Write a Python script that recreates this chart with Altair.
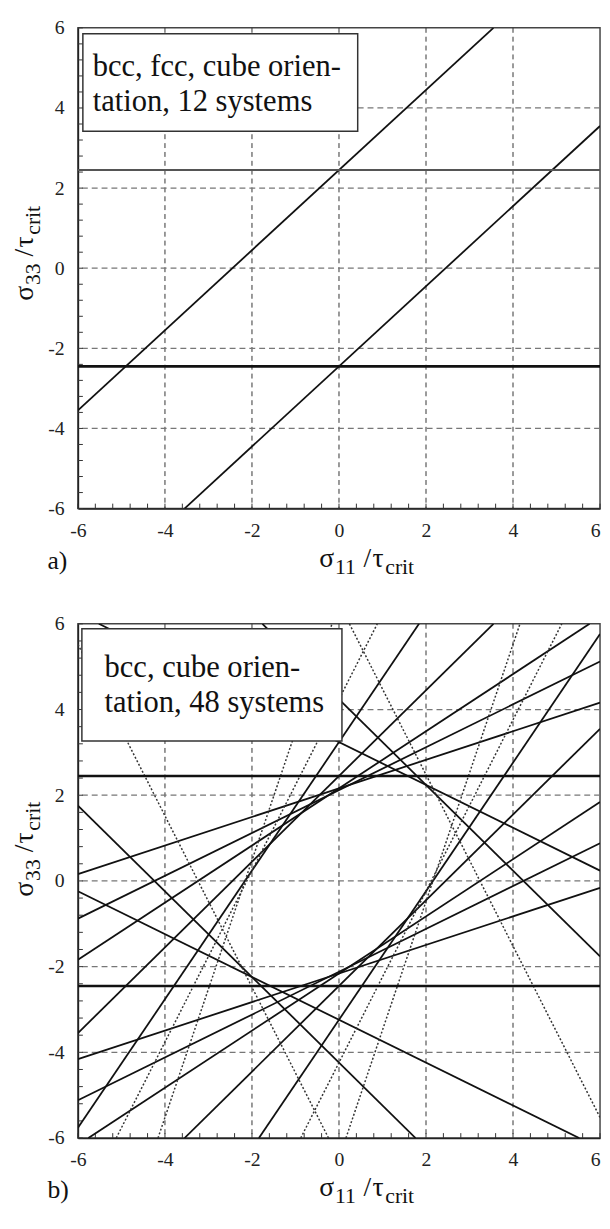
import altair as alt
import pandas as pd

SERIF = "Liberation Serif"

# ---------------- values ----------------
tick_labels = [-6, -4, -2, 0, 2, 4, 6]
grid_vals = [-4, -2, 0, 2, 4]
minor_ticks = [-6.0, -5.6, -5.2, -4.8, -4.4, -4.0, -3.6, -3.2, -2.8, -2.4, -2.0,
               -1.6, -1.2, -0.8, -0.4, 0.0, 0.4, 0.8, 1.2, 1.6, 2.0, 2.4, 2.8,
               3.2, 3.6, 4.0, 4.4, 4.8, 5.2, 5.6, 6.0]

# panel a) : 12 systems, segment start / end points
a_x1 = [-6.0, -6.0, -6.0, -3.55]
a_y1 = [2.45, -2.45, -3.55, -6.0]
a_x2 = [6.0, 6.0, 3.55, 6.0]
a_y2 = [2.45, -2.45, 6.0, 3.55]
a_kind = ["upper", "thick", "solid", "solid"]

# panel b) : 48 systems, segment start / end points
b_x1 = [-6.0, -6.0, -6.0, -3.55, -6.0, -6.0, -0.88, -5.12, -1.76, -6.0, -6.0,
        -6.0, 0.16, -4.16, -5.52, -6.0, 0.24, -6.0, -5.76, -6.0, -1.84, -6.0]
b_y1 = [2.45, -2.45, -3.55, -6.0, -5.12, -0.88, -6.0, -6.0, 6.0, 1.76, -4.16,
        0.16, -6.0, -6.0, 6.0, -0.24, 6.0, 5.52, -6.0, -1.84, -6.0, -5.76]
b_x2 = [6.0, 6.0, 3.55, 6.0, 6.0, 6.0, 5.12, 0.88, 6.0, 1.76, 6.0,
        6.0, 4.16, -0.16, 6.0, 5.52, 6.0, -0.24, 6.0, 5.76, 6.0, 1.84]
b_y2 = [2.45, -2.45, 6.0, 3.55, 0.88, 5.12, 6.0, 6.0, -1.76, -6.0, -0.16,
        4.16, 6.0, 6.0, 0.24, -6.0, -5.52, -6.0, 1.84, 6.0, 5.76, 6.0]
b_kind = ["thick", "thick", "solid", "solid", "solid", "solid", "dotted", "dotted",
          "solid", "solid", "solid", "solid", "dotted", "dotted", "solid", "solid",
          "dotted", "dotted", "solid", "solid", "solid", "solid"]

a_box_lines = ["bcc, fcc, cube orien-", "tation, 12 systems"]
b_box_lines = ["bcc, cube orien-", "tation, 48 systems"]

W = 530
ONE = pd.DataFrame({"k": [0]})


def txt(s, px, py, size, angle=0, color="#111"):
    kw = dict(font=SERIF, fontSize=size, align="left", baseline="alphabetic", color=color)
    if angle:
        kw["angle"] = angle
    return alt.Chart(ONE).mark_text(**kw).encode(
        x=alt.value(px), y=alt.value(py), text=alt.value(s))


def panel(x1, y1, x2, y2, kind, H, box, box_lines, box_text_pos, tag):
    xs = alt.Scale(domain=[-6, 6], nice=False, zero=False)
    ys = alt.Scale(domain=[-6, 6], nice=False, zero=False)
    xaxis = alt.Axis(values=tick_labels, labelExpr="'' + datum.value", grid=False,
                     ticks=False, labelFont=SERIF, labelFontSize=20, labelColor="#222",
                     labelPadding=12, domainColor="#222", domainWidth=1.5,
                     labelAlign={"expr": "datum.value == 6 ? 'right' : 'center'"})
    yaxis = alt.Axis(values=tick_labels, labelExpr="'' + datum.value", grid=False,
                     ticks=False, labelFont=SERIF, labelFontSize=20, labelColor="#222",
                     labelPadding=14, domainColor="#222", domainWidth=1.5)

    def X(f):
        return alt.X(f, type="quantitative", scale=xs, axis=xaxis, title=None)

    def Y(f):
        return alt.Y(f, type="quantitative", scale=ys, axis=yaxis, title=None)

    gdf = pd.DataFrame({"g": grid_vals})
    tdf = pd.DataFrame({"t": minor_ticks})
    ldf = pd.DataFrame(dict(x1=x1, y1=y1, x2=x2, y2=y2, kind=kind))

    vgrid = alt.Chart(gdf).mark_rule(color="#333", strokeWidth=1, strokeDash=[5, 4]).encode(x=X("g"))
    hgrid = alt.Chart(gdf).mark_rule(color="#777", strokeWidth=1.3, strokeDash=[6, 4]).encode(y=Y("g"))
    xt = alt.Chart(tdf).mark_rule(color="#333", strokeWidth=1).encode(
        x=X("t"), y=alt.value(H), y2=alt.value(H - 5))
    yt = alt.Chart(tdf).mark_rule(color="#333", strokeWidth=1).encode(
        y=Y("t"), x=alt.value(0), x2=alt.value(5))

    styles = {
        "solid": dict(color="#111", strokeWidth=1.8),
        "dotted": dict(color="#333", strokeWidth=1.5, strokeDash=[2, 2]),
        "thick": dict(color="#111", strokeWidth=2.6),
        "upper": dict(color="#555", strokeWidth=2),
    }
    segs = []
    for k, st in styles.items():
        segs.append(alt.Chart(ldf).transform_filter(alt.datum.kind == k)
                    .mark_rule(clip=True, **st)
                    .encode(x=X("x1"), y=Y("y1"), x2="x2", y2="y2"))

    bx1, by1, bx2, by2 = box
    rect = alt.Chart(ONE).mark_rect(fill="white", stroke="#333", strokeWidth=1.5).encode(
        x=alt.value(bx1), x2=alt.value(bx2), y=alt.value(by1), y2=alt.value(by2))
    tx, ty1, ty2 = box_text_pos
    texts = [txt(box_lines[0], tx, ty1, 31), txt(box_lines[1], tx, ty2, 31)]

    # x-axis title  sigma_11 / tau_crit
    mb, sb = H + 59, H + 66
    texts += [txt("σ", 245, mb, 28), txt("11", 261, sb, 22), txt("/", 290, mb, 28),
              txt("τ", 299, mb, 28), txt("crit", 312, sb, 22)]
    # y-axis title  sigma_33 / tau_crit (rotated)
    mx, sx = -46, -39
    texts += [txt("σ", mx, 277, 28, 270), txt("33", sx, 261, 22, 270),
              txt("/", mx, 232, 28, 270), txt("τ", mx, 223, 28, 270),
              txt("crit", sx, 210, 22, 270)]
    texts.append(txt(tag, -31, H + 61, 26))

    return alt.layer(vgrid, hgrid, xt, yt, *segs, rect, *texts).properties(width=W, height=H)


pa = panel(a_x1, a_y1, a_x2, a_y2, a_kind, 488, (5, 6, 284, 105), a_box_lines, (15, 49, 84), "a)")
pb = panel(b_x1, b_y1, b_x2, b_y2, b_kind, 522, (4, 5, 268, 119), b_box_lines, (27, 54, 90), "b)")

chart = (alt.vconcat(pa, pb, spacing=117, bounds="flush")
         .properties(padding={"left": 2, "top": 0, "right": 0, "bottom": 0}, background="white")
         .configure_view(stroke="#444", strokeWidth=1.5))

chart.save("out.html", embed_options={"renderer": "svg", "actions": False})
